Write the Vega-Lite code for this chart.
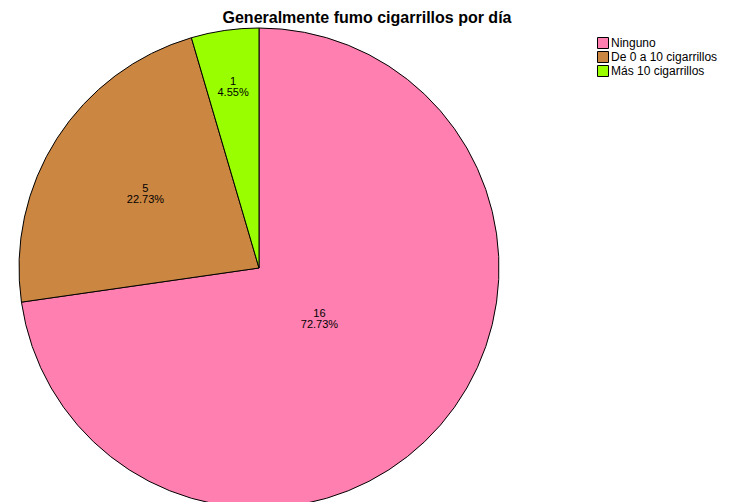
{
  "$schema": "https://vega.github.io/schema/vega-lite/v6.json",
  "autosize": "none",
  "padding": {"left": 0, "top": 34, "right": 215, "bottom": 0},
  "width": 518,
  "height": 468,
  "background": "white",
  "config": {"view": {"stroke": null}, "font": "Liberation Sans"},
  "title": {
    "text": "Generalmente fumo cigarrillos por día",
    "fontSize": 16,
    "fontWeight": "bold",
    "font": "Liberation Sans",
    "color": "black",
    "anchor": "middle",
    "dx": 108,
    "offset": 0
  },
  "data": {
    "values": [
      {"idx": 1, "category": "Ninguno", "count": 16, "pct": "72.73%"},
      {"idx": 2, "category": "De 0 a 10 cigarrillos", "count": 5, "pct": "22.73%"},
      {"idx": 3, "category": "Más 10 cigarrillos", "count": 1, "pct": "4.55%"}
    ]
  },
  "encoding": {
    "theta": {"field": "count", "type": "quantitative", "stack": true},
    "order": {"field": "idx", "type": "quantitative"}
  },
  "layer": [
    {
      "mark": {"type": "arc", "outerRadius": 240, "stroke": "black", "strokeWidth": 1},
      "encoding": {
        "color": {
          "field": "category",
          "type": "nominal",
          "sort": ["Ninguno", "De 0 a 10 cigarrillos", "Más 10 cigarrillos"],
          "scale": {
            "domain": ["Ninguno", "De 0 a 10 cigarrillos", "Más 10 cigarrillos"],
            "range": ["#FF80B0", "#CB8642", "#99FF00"]
          },
          "legend": {
            "title": null,
            "orient": "none",
            "legendX": 597,
            "legendY": 3,
            "symbolType": "square",
            "symbolSize": 121,
            "symbolStrokeColor": "black",
            "symbolStrokeWidth": 1,
            "symbolOpacity": 1,
            "labelFontSize": 12,
            "labelFont": "Liberation Sans",
            "labelColor": "black",
            "rowPadding": -2,
            "labelOffset": 2,
            "padding": 0
          }
        }
      }
    },
    {
      "mark": {"type": "text", "fontSize": 11, "font": "Liberation Sans", "color": "black", "dy": -6},
      "encoding": {
        "radius": {"field": "count", "type": "quantitative", "scale": {"type": "linear", "domain": [1, 5, 16], "range": [182, 135, 80], "zero": false}},
        "text": {"field": "count", "type": "quantitative"}
      }
    },
    {
      "mark": {"type": "text", "fontSize": 11, "font": "Liberation Sans", "color": "black", "dy": 5},
      "encoding": {
        "radius": {"field": "count", "type": "quantitative", "scale": {"type": "linear", "domain": [1, 5, 16], "range": [182, 135, 80], "zero": false}},
        "text": {"field": "pct", "type": "nominal"}
      }
    }
  ]
}
